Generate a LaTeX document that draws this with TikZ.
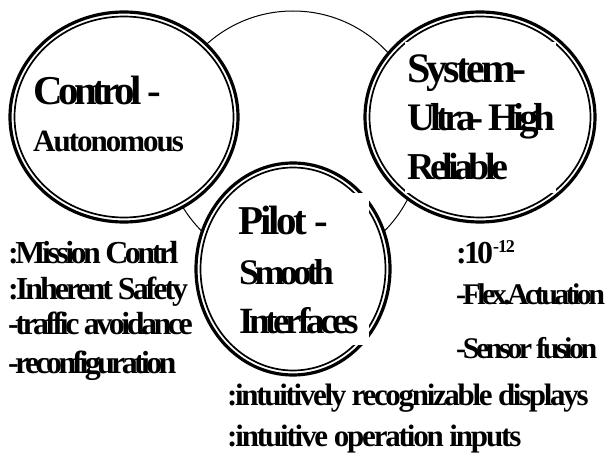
\documentclass[tikz,border=0pt]{standalone}
\usepackage{fontspec}
\setmainfont{Liberation Serif}
\usetikzlibrary{shapes.geometric}
\newcommand\tx[3]{{\fontsize{#1}{#1}\selectfont\bfseries\addfontfeatures{LetterSpace=#2}#3}}
\begin{document}
\begin{tikzpicture}[x=1pt,y=-1pt,
  ring/.style={ellipse,draw,line width=3.2pt,fill=white,inner sep=0pt},
  inring/.style={ellipse,draw,line width=1.7pt,inner sep=0pt},
  lab/.style={anchor=base west,inner sep=0pt},
  cover/.style={fill=white,draw=none,inner sep=0pt,anchor=north west}]
\useasboundingbox (0,0) rectangle (610,465);
% large thin circle
\node[circle,draw,line width=1pt,minimum size=258pt,inner sep=0pt] (big) at (293,140) {};
% Control
\node[ring,minimum width=228pt,minimum height=210pt] (ctrl) at (124,117) {};
\node[inring,minimum width=219pt,minimum height=201pt] (ctrlin) at (124,117) {};
% System
\node[ring,minimum width=230pt,minimum height=210pt] (sys) at (480,117) {};
\node[inring,minimum width=221pt,minimum height=201pt] (sysin) at (480,117) {};
% Pilot
\node[ring,minimum width=194pt,minimum height=212pt] (pil) at (293,269) {};
\node[inring,minimum width=185pt,minimum height=203pt] (pilin) at (293,269) {};
% white boxes behind texts
\node[cover,minimum width=151pt,minimum height=151pt] (sysbox) at (405,42) {};
\node[cover,minimum width=134pt,minimum height=152pt] (pilbox) at (235,193) {};
% circle titles
\node[lab] (c1) at (33,105) {\tx{41}{-11}{Control -}};
\node[lab] (c2) at (33,152) {\tx{31}{-6.5}{Autonomous}};
\node[lab] (s1) at (407,83) {\tx{42}{-9}{System-}};
\node[lab] (s2) at (407,131) {\tx{39}{-13}{Ultra- High}};
\node[lab] (s3) at (407,180) {\tx{38}{-12}{Reliable}};
\node[lab] (p1) at (238,234) {\tx{41}{-8}{Pilot -}};
\node[lab] (p2) at (239,284) {\tx{36}{-13}{Smooth}};
\node[lab] (p3) at (239,333) {\tx{37}{-11.5}{Interfaces}};
% left list
\node[lab] (l1) at (8,263) {\tx{32}{-11}{:Mission Contrl}};
\node[lab] (l2) at (8,299) {\tx{32}{-9.5}{:Inherent Safety}};
\node[lab] (l3) at (8,334) {\tx{32}{-11}{-traffic avoidance}};
\node[lab] (l4) at (8,373) {\tx{32}{-11.5}{-reconfiguration}};
% right list
\node[lab] (r1) at (456,263) {\tx{32}{-9}{:10}\raisebox{11pt}{\tx{18}{-6}{-12}}};
\node[lab] (r2) at (456,304) {\tx{30}{-12}{-Flex.Actuation}};
\node[lab] (r3) at (456,358) {\tx{30}{-11.5}{-Sensor fusion}};
% bottom lines
\node[lab] (b1) at (227,405) {\tx{31}{-7.5}{:intuitively recognizable displays}};
\node[lab] (b2) at (227,446) {\tx{31}{-7}{:intuitive operation inputs}};
\end{tikzpicture}
\end{document}
